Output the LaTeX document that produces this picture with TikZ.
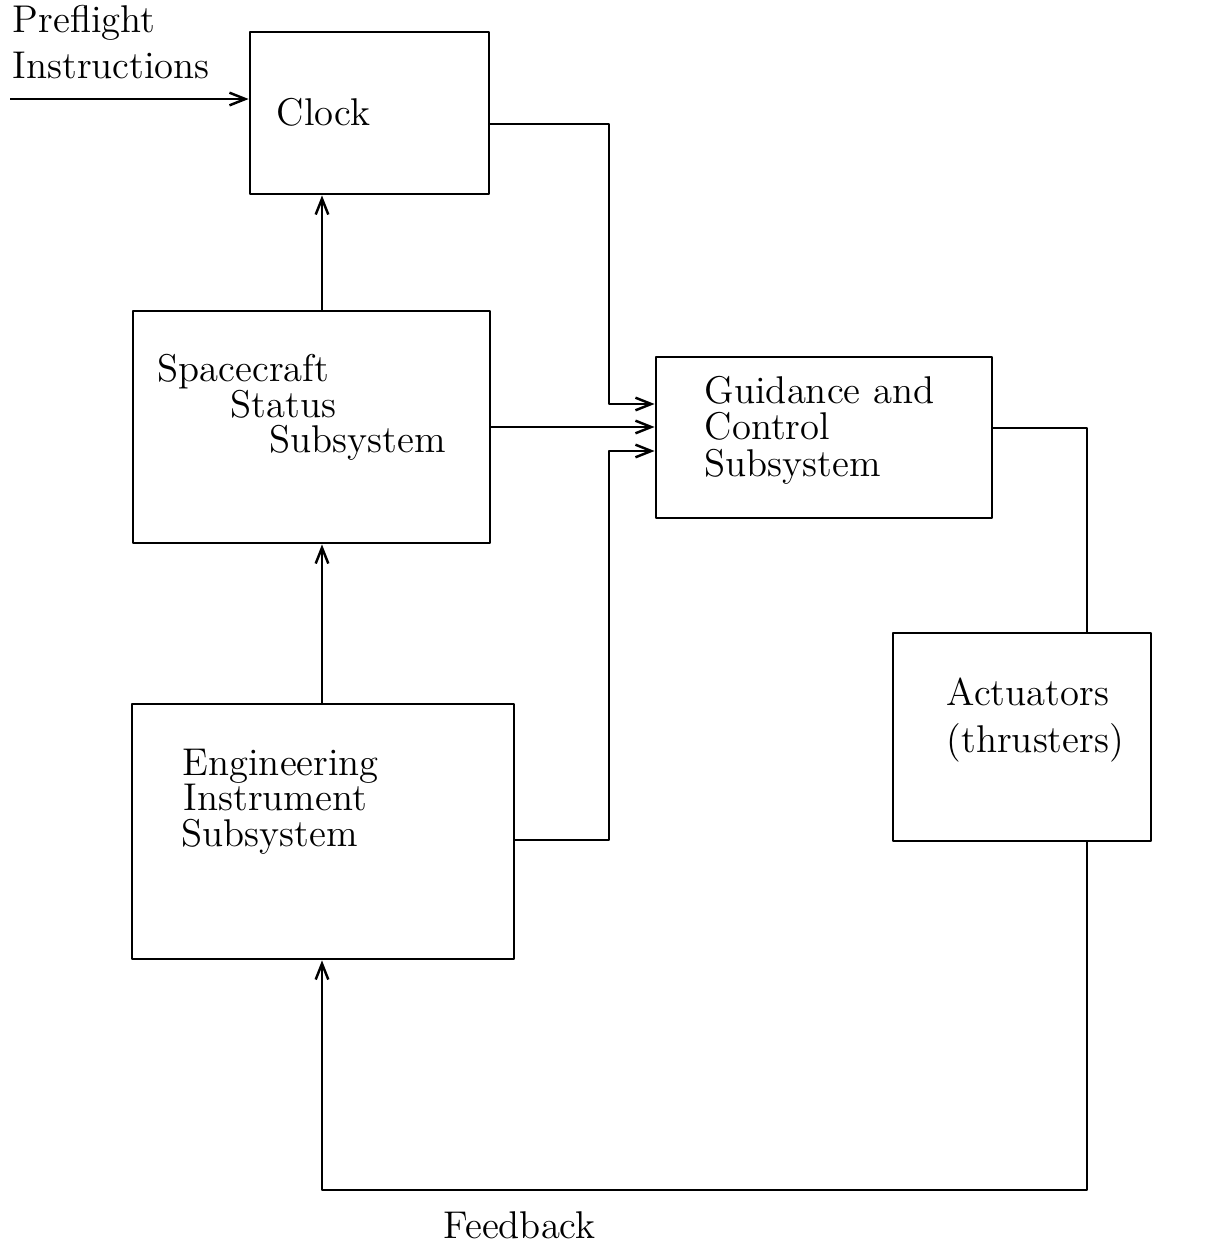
\documentclass[tikz,border=0pt]{standalone}
\usepackage{tikz}
\usetikzlibrary{calc,arrows.meta,positioning}

\tikzset{
    box/.style={draw, line width=0.75pt, rectangle, inner sep=0pt},
    txt/.style={anchor=base west, inner sep=0pt, font=\fontsize{11}{13}\selectfont},
    arr/.style={-{Straight Barb[length=4.5pt,width=3.6pt]}, line width=0.7pt},
    wire/.style={line width=0.7pt}
}

\begin{document}
\begin{tikzpicture}[x=0.01cm, y=-0.01cm, line join=round]
    \useasboundingbox (0,0) rectangle (1211,1247);
    % blocks
    \node[box, minimum width=2.39cm, minimum height=1.62cm] (clock) at (369.5,113) {};
    \node[box, minimum width=3.57cm, minimum height=2.32cm] (status) at (311.5,427) {};
    \node[box, minimum width=3.36cm, minimum height=1.61cm] (guide) at (824,437.5) {};
    \node[box, minimum width=3.82cm, minimum height=2.55cm] (engin) at (323,831.5) {};
    \node[box, minimum width=2.58cm, minimum height=2.08cm] (actu) at (1022,737) {};
    % helper points
    \coordinate (pf) at (10,99);
    \coordinate (upx) at (322,0);
    \coordinate (busx) at (609,0);
    \coordinate (outx) at (1087,0);
    \coordinate (fb) at (0,1190);
    % connectors
    \draw[arr] (pf) -- (pf -| clock.west);
    \draw[arr] (status.north -| upx) -- (clock.south -| upx);
    \draw[arr] (engin.north -| upx) -- (status.south -| upx);
    \draw[arr] (clock.east |- 0,124) -| (busx |- 0,404) -- (guide.west |- 0,404);
    \draw[arr] (status.east) -- (status.east -| guide.west);
    \draw[arr] (engin.east |- 0,840) -| (busx |- 0,451) -- (guide.west |- 0,451);
    \draw[wire] (guide.east |- 0,428) -| (actu.north -| outx);
    \draw[arr] (actu.south -| outx) |- (fb -| upx) -- (engin.south -| upx);
    % labels
    \node[txt] (lpre) at (12,32) {Preflight};
    \node[txt] (lins) at (12,78) {Instructions};
    \node[txt] (lclk) at (276,125) {Clock};
    \node[txt] (ls1) at (157,381) {Spacecraft};
    \node[txt] (ls2) at (230,417) {Status};
    \node[txt] (ls3) at (269,452) {Subsystem};
    \node[txt] (lg1) at (704,403) {Guidance and};
    \node[txt] (lg2) at (704,439) {Control};
    \node[txt] (lg3) at (704,476) {Subsystem};
    \node[txt] (le1) at (182,775) {Engineering};
    \node[txt] (le2) at (183,810) {Instrument};
    \node[txt] (le3) at (181,846) {Subsystem};
    \node[txt] (la1) at (946,705) {Actuators};
    \node[txt] (la2) at (946,752) {(thrusters)};
    \node[txt] (lfb) at (443,1238) {Feedback};
\end{tikzpicture}
\end{document}
